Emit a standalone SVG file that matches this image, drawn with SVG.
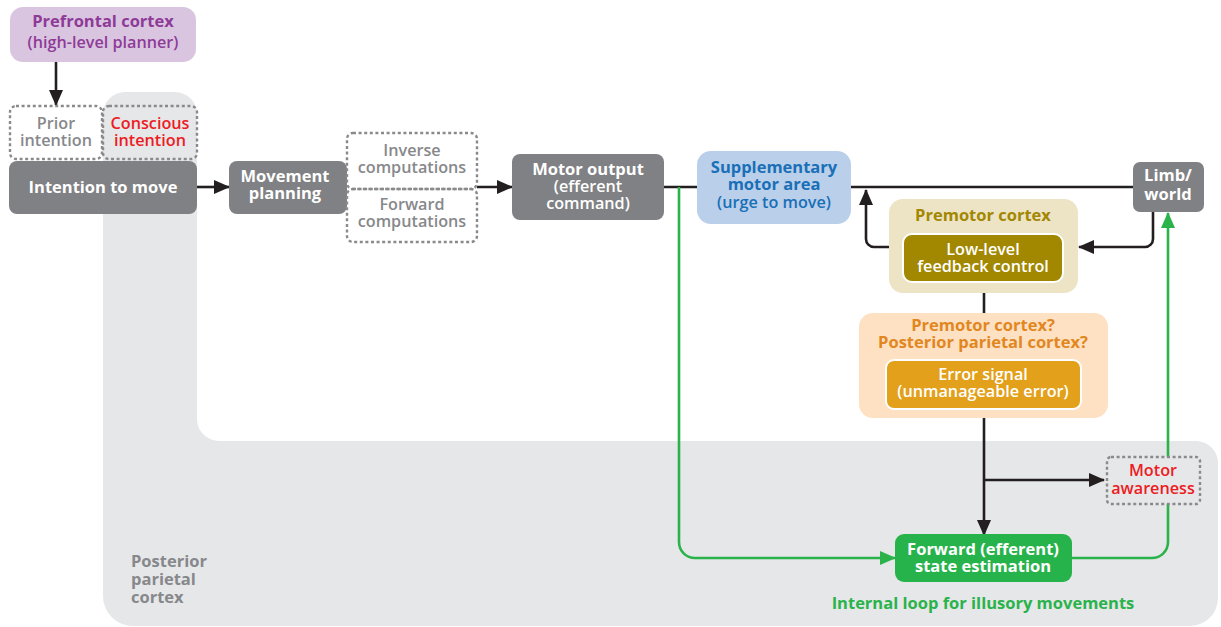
<svg xmlns="http://www.w3.org/2000/svg" width="1221" height="627" viewBox="0 0 1221 627">
<style>
text{font-family:"Open Sans","Liberation Sans",sans-serif;font-size:16.2px;text-anchor:middle}
.b{font-weight:700;font-size:16.5px}
.s{font-weight:600}
.w{fill:#fff}
.g{fill:#87888b}
.r{fill:#ec1c24}
.dash{fill:none;stroke:#8a8a8d;stroke-width:2.4;stroke-dasharray:3 2.6}
.dk{fill:#808184}
.ln{fill:none;stroke:#231f20;stroke-width:2.6}
.gl{fill:none;stroke:#2ab34b;stroke-width:2.6}
</style>
<defs>
<marker id="ah" markerUnits="userSpaceOnUse" markerWidth="16" markerHeight="14" refX="15" refY="7" orient="auto"><path d="M0,0 L16,7 L0,14 Z" fill="#231f20"/></marker>
<marker id="ag" markerUnits="userSpaceOnUse" markerWidth="16" markerHeight="14" refX="15" refY="7" orient="auto"><path d="M0,0 L16,7 L0,14 Z" fill="#2ab34b"/></marker>
</defs>
<rect width="1221" height="627" fill="#fff"/>
<g id="ppc">
<path d="M125 92 H175 A22 22 0 0 1 197 114 V419 A22 22 0 0 0 219 441 H1196 A22 22 0 0 1 1218 463 V598 A28 28 0 0 1 1190 626 H133 A30 30 0 0 1 103 596 V114 A22 22 0 0 1 125 92 Z" fill="#e6e7e8"/>
<text class="b g" x="131" y="567" style="text-anchor:start">Posterior</text>
<text class="b g" x="131" y="585" style="text-anchor:start">parietal</text>
<text class="b g" x="131" y="603" style="text-anchor:start">cortex</text>
</g>
<g id="connectors">
<line class="ln" x1="56" y1="62" x2="56" y2="105" marker-end="url(#ah)"/>
<line class="ln" x1="197" y1="187" x2="229" y2="187" marker-end="url(#ah)"/>
<line class="ln" x1="477" y1="187" x2="512" y2="187" marker-end="url(#ah)"/>
<line class="ln" x1="663" y1="187" x2="1133" y2="187"/>
<path class="ln" d="M889 247 H874 A8 8 0 0 1 866 239 V190" marker-end="url(#ah)"/>
<path class="ln" d="M1153 212 V239 A8 8 0 0 1 1145 247 H1079" marker-end="url(#ah)"/>
<line class="ln" x1="984" y1="293" x2="984" y2="313"/>
<line class="ln" x1="984" y1="418" x2="984" y2="535" marker-end="url(#ah)"/>
<line class="ln" x1="984" y1="480" x2="1104" y2="480" marker-end="url(#ah)"/>
<path class="gl" d="M679 187 V542 A16 16 0 0 0 695 558 H895" marker-end="url(#ag)"/>
<path class="gl" d="M1072 558 H1152 A16 16 0 0 0 1168 542 V504"/>
<line class="gl" x1="1168" y1="457" x2="1168" y2="213" marker-end="url(#ag)"/>
</g>
<g id="prefrontal">
<rect x="10" y="7" width="186" height="55" rx="13" fill="#dac5e1"/>
<text class="b" x="103" y="27" fill="#8e3b97">Prefrontal cortex</text>
<text class="s" x="103" y="48" fill="#8e3b97">(high-level planner)</text>
</g>
<g id="prior">
<rect class="dash" x="10" y="106" width="92" height="53" rx="6"/>
<text class="s g" x="56" y="129">Prior</text>
<text class="s g" x="56" y="146">intention</text>
</g>
<g id="conscious">
<rect class="dash" x="103" y="106" width="94" height="53" rx="6"/>
<text class="s r" x="150" y="129">Conscious</text>
<text class="s r" x="150" y="146">intention</text>
</g>
<g id="intention">
<rect class="dk" x="9" y="161" width="188" height="53" rx="8"/>
<text class="b w" x="103" y="193">Intention to move</text>
</g>
<g id="planning">
<rect class="dk" x="229" y="161" width="118" height="53" rx="8"/>
<text class="b w" x="285" y="182">Movement</text>
<text class="b w" x="285" y="199">planning</text>
</g>
<g id="inverse">
<rect class="dash" x="347" y="133" width="130" height="56" rx="6"/>
<text class="s g" x="412" y="156">Inverse</text>
<text class="s g" x="412" y="173">computations</text>
</g>
<g id="forwardcomp">
<rect class="dash" x="347" y="189" width="130" height="53" rx="6"/>
<text class="s g" x="412" y="210">Forward</text>
<text class="s g" x="412" y="227">computations</text>
</g>
<g id="motoroutput">
<rect class="dk" x="512" y="154" width="152" height="66" rx="8"/>
<text class="b w" x="588" y="175">Motor output</text>
<text class="s w" x="588" y="192">(efferent</text>
<text class="s w" x="588" y="209">command)</text>
</g>
<g id="sma">
<rect x="697" y="151" width="154" height="73" rx="14" fill="#b9cfea"/>
<text class="b" x="774" y="173" fill="#1a6fb7">Supplementary</text>
<text class="b" x="774" y="190" fill="#1a6fb7">motor area</text>
<text class="s" x="774" y="208" fill="#1a6fb7">(urge to move)</text>
</g>
<g id="limb">
<rect class="dk" x="1133" y="162" width="71" height="50" rx="7"/>
<text class="b w" x="1168" y="181">Limb/</text>
<text class="b w" x="1168" y="200">world</text>
</g>
<g id="premotor">
<rect x="889" y="199" width="189" height="94" rx="14" fill="#ede3c5"/>
<text class="b" x="983" y="221" fill="#a28700">Premotor cortex</text>
<rect x="903" y="234" width="160" height="48" rx="9" fill="#a28800" stroke="#fff" stroke-width="2"/>
<text class="s w" x="983" y="255">Low-level</text>
<text class="s w" x="983" y="272">feedback control</text>
</g>
<g id="error">
<rect x="859" y="313" width="249" height="105" rx="14" fill="#fde1c2"/>
<text class="b" x="983" y="331" fill="#e2871f">Premotor cortex?</text>
<text class="b" x="983" y="348" fill="#e2871f">Posterior parietal cortex?</text>
<rect x="886" y="360" width="195" height="49" rx="8" fill="#e2a01b" stroke="#fff" stroke-width="2"/>
<text class="s w" x="983" y="380">Error signal</text>
<text class="s w" x="983" y="397">(unmanageable error)</text>
</g>
<g id="awareness">
<rect class="dash" x="1107" y="457" width="93" height="47" rx="4"/>
<text class="s r" x="1153" y="476">Motor</text>
<text class="s r" x="1153" y="494">awareness</text>
</g>
<g id="forwardstate">
<rect x="895" y="534" width="177" height="48" rx="9" fill="#27b34b"/>
<text class="b w" x="983" y="555">Forward (efferent)</text>
<text class="b w" x="983" y="572">state estimation</text>
</g>
<g id="loop">
<text class="b" x="983" y="609" fill="#2ab34b">Internal loop for illusory movements</text>
</g>
</svg>
